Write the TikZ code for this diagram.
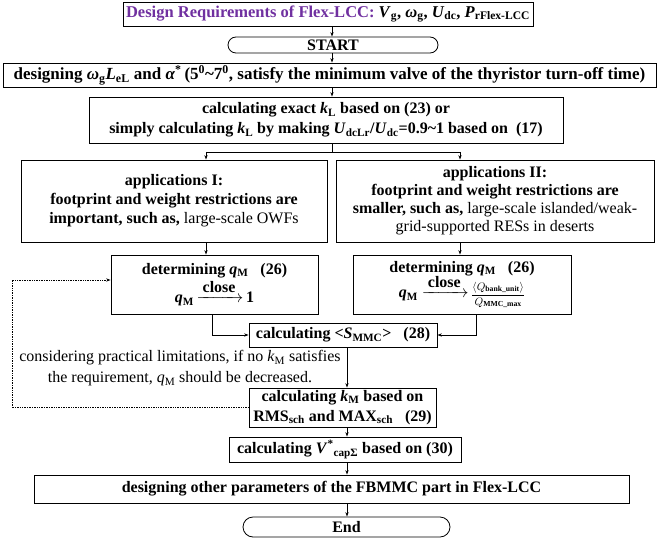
\documentclass[tikz,border=0pt]{standalone}
\usepackage{fontspec}
\setmainfont{Liberation Serif}
\usepackage{amsmath}
\usetikzlibrary{arrows.meta,calc}
\definecolor{purp}{RGB}{112,48,160}
\newcommand\bi[1]{\textbf{\textit{#1}}}
\newcommand\sbb[1]{\textsubscript{\textbf{#1}}}
\newcommand\snn[1]{\textsubscript{#1}}
\newcommand\clsarrow{$\xrightarrow{\mbox{\bfseries\,close\,}}$}
\begin{document}
\begin{tikzpicture}[x=1pt,y=-1pt,
  font=\fontsize{16}{20}\selectfont\bfseries,
  box/.style={draw,line width=0.8pt,inner sep=0pt,align=center},
  conn/.style={line width=0.7pt,-{Stealth[length=4.5pt,width=3.2pt]}},
  plain/.style={line width=0.7pt}]
\useasboundingbox (0,0) rectangle (660,540);
\coordinate (cx) at (332,0);
\coordinate (cy) at (347,0);
\coordinate (lx) at (212,0);
\coordinate (rx) at (476,0);
\coordinate (ax) at (206,0);
\coordinate (bx) at (460,0);
\coordinate (dl) at (12,0);
\coordinate (dy) at (0,280);
\coordinate (sp) at (332,152);
\node[box,minimum width=410pt,minimum height=24pt,font=\fontsize{16.5}{20}\selectfont\bfseries] (req) at (328,14)
  {\textcolor{purp}{Design Requirements of Flex-LCC:} \bi{V}\sbb{g}, \bi{ω}\sbb{g}, \bi{U}\sbb{dc}, \bi{P}\sbb{rFlex-LCC}};
\node[box,rounded corners=8pt,minimum width=210pt,minimum height=16pt] (start) at (333,45) {START};
\node[box,minimum width=653pt,minimum height=24pt,font=\fontsize{17}{20}\selectfont\bfseries] (des) at (329.5,75)
  {designing \bi{ω}\sbb{g}\bi{L}\sbb{eL} and \bi{α}\textsuperscript{*}\,(5\textsuperscript{0}\textasciitilde7\textsuperscript{0}, satisfy the minimum valve of the thyristor turn-off time)};
\node[box,minimum width=474pt,minimum height=46pt] (kl) at (326,120)
  {calculating exact \bi{k}\sbb{L} based on (23) or\\simply calculating \bi{k}\sbb{L} by making \bi{U}\sbb{dcLr}/\bi{U}\sbb{dc}=0.9\textasciitilde1 based on\ \ (17)};
\node[box,minimum width=306pt,minimum height=82pt,font=\fontsize{16}{19}\selectfont\bfseries] (app1) at (174,201)
  {applications I:\\footprint and weight restrictions are\\important, such as, \mdseries large-scale OWFs};
\node[box,minimum width=318pt,minimum height=82pt,font=\fontsize{16}{18}\selectfont\bfseries] (app2) at (495,201)
  {applications II:\\footprint and weight restrictions are\\smaller, such as, \mdseries large-scale islanded/weak-\\\mdseries grid-supported RESs in deserts};
\node[box,minimum width=207pt,minimum height=59pt] (det1) at (214.5,284.5)
  {determining \bi{q}\sbb{M}\ \ \ (26)\\[1pt]\bi{q}\sbb{M}\,\clsarrow\,1};
\node[box,minimum width=218pt,minimum height=59pt] (det2) at (462,284.5)
  {determining \bi{q}\sbb{M}\ \ \ (26)\\[-2pt]\bi{q}\sbb{M}\ \clsarrow\,{\fontsize{11}{12}\selectfont$\dfrac{\langle Q_{\text{bank\_unit}}\rangle}{Q_{\text{MMC\_max}}}$}};
\node[box,minimum width=188pt,minimum height=24pt] (smmc) at (343,335)
  {calculating <\bi{S}\sbb{MMC}>\ \ \ (28)};
\node[box,minimum width=187pt,minimum height=39pt] (km) at (342.5,407.5)
  {calculating \bi{k}\sbb{M} based on\\RMS\sbb{sch} and MAX\sbb{sch}\ \ \ (29)};
\node[box,minimum width=232pt,minimum height=25pt] (vcap) at (345,449.5)
  {calculating \bi{V}\textsuperscript{*}\sbb{capΣ} based on (30)};
\node[box,minimum width=595pt,minimum height=28pt] (oth) at (331.5,489)
  {designing other parameters of the FBMMC part in Flex-LCC};
\node[box,rounded corners=10pt,minimum width=207pt,minimum height=20pt] (endn) at (346.5,527) {End};
\node[align=center,font=\fontsize{16}{21}\selectfont\mdseries] (note) at (180,368)
  {considering practical limitations, if no \textit{k}\snn{M} satisfies\\the requirement, \textit{q}\snn{M} should be decreased.};
% connectors
\draw[conn] (req.south -| cx) -- (start.north -| cx);
\draw[conn] (start.south -| cx) -- (des.north -| cx);
\draw[conn] (des.south -| cx) -- (kl.north -| cx);
\draw[plain] (kl.south -| cx) -- (sp);
\draw[plain] (sp -| ax) -- (sp -| bx);
\draw[conn] (sp -| ax) -- (app1.north -| ax);
\draw[conn] (sp -| bx) -- (app2.north -| bx);
\draw[conn] (app1.south -| ax) -- (det1.north -| ax);
\draw[conn] (app2.south -| bx) -- (det2.north -| bx);
\draw[conn] (det1.south -| lx) |- (smmc.west);
\draw[conn] (det2.south -| rx) |- (smmc.east);
\draw[conn] (smmc.south -| cy) -- (km.north -| cy);
\draw[conn] (km.south -| cy) -- (vcap.north -| cy);
\draw[conn] (vcap.south -| cy) -- (oth.north -| cy);
\draw[conn] (oth.south -| cy) -- (endn.north -| cy);
\draw[conn,densely dotted,line width=1pt] (km.west) -- (km.west -| dl) -- (dl |- dy) -- (det1.west |- dy);
\end{tikzpicture}
\end{document}
